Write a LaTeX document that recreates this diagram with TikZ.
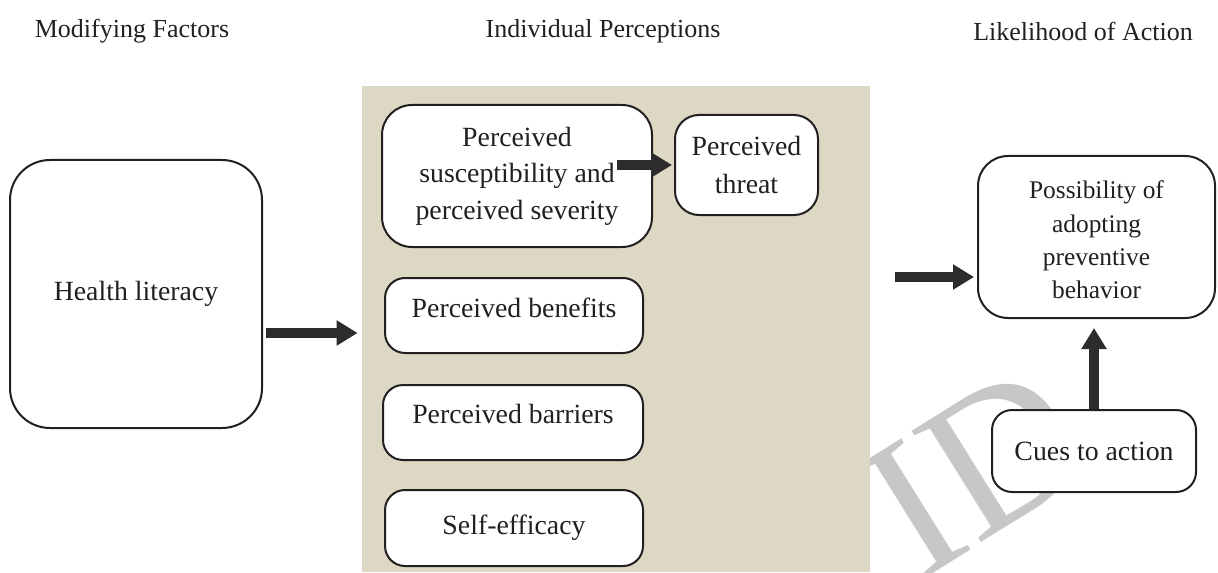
\documentclass[tikz,border=0pt]{standalone}
\usepackage{fontspec}
\setmainfont{Liberation Serif}
\usetikzlibrary{arrows.meta,fit}
\definecolor{panelfill}{RGB}{221,216,196}
\definecolor{ink}{RGB}{35,31,32}
\definecolor{arrowfill}{RGB}{45,43,44}
\begin{document}
\begin{tikzpicture}[x=0.5pt,y=-0.5pt,
  box/.style={draw=ink, line width=1pt, fill=white, rounded corners=12pt, inner sep=0pt},
  boxtext/.style={align=center, text=ink, inner sep=0pt, font=\fontsize{13.9}{18.25}\selectfont},
  title/.style={text=ink, inner sep=0pt, font=\fontsize{13}{15}\selectfont},
  bigarrow/.style={line width=5pt, draw=arrowfill, -{Triangle[length=10.5pt,width=12pt]}}]
\useasboundingbox (0,0) rectangle (1218,572);
% watermark
\node[text=black!22, rotate=32, inner sep=0pt, font=\fontsize{100}{100}\selectfont] (wm) at (975,470) {ID};
% panel
\node[fit={(362,86)(870,572)}, fill=panelfill, inner sep=0pt] (panel) {};
% titles
\node[title] (t1) at (132,31) {Modifying Factors};
\node[title] (t2) at (603,31) {Individual Perceptions};
\node[title] (t3) at (1083,31) {Likelihood of Action};
% boxes
\node[box, rounded corners=20pt, fit={(10,160)(262,428)}] (hl) {};
\node[boxtext] (hlt) at (hl.center) {Health literacy};
\node[box, rounded corners=15pt, fit={(382,105)(652,247)}] (sus) {};
\node[boxtext] (sust) at (sus.center) {Perceived\\susceptibility and\\perceived severity};
\node[box, rounded corners=12pt, fit={(675,115)(818,215)}] (thr) {};
\node[boxtext, font=\fontsize{13.9}{19}\selectfont] (thrt) at (thr.center) {Perceived\\threat};
\node[box, rounded corners=10pt, fit={(385,278)(643,353)}] (ben) {};
\node[boxtext] (bent) at ([yshift=3.7pt]ben.center) {Perceived benefits};
\node[box, rounded corners=10pt, fit={(383,385)(643,460)}] (bar) {};
\node[boxtext] (bart) at ([yshift=4.5pt]bar.center) {Perceived barriers};
\node[box, rounded corners=10pt, fit={(385,490)(643,566)}] (self) {};
\node[boxtext] (selft) at (self.center) {Self-efficacy};
\node[box, rounded corners=15pt, fit={(978,156)(1215,318)}] (poss) {};
\node[boxtext, font=\fontsize{12.7}{16.7}\selectfont] (posst) at ([yshift=-1.5pt]poss.center) {Possibility of\\adopting\\preventive\\behavior};
\node[box, rounded corners=10pt, fit={(992,410)(1196,492)}] (cues) {};
\node[boxtext] (cuest) at (cues.center) {Cues to action};
% arrows
\draw[bigarrow, shorten <=1.5pt, shorten >=2pt] (hl.east |- 0,333) -- (panel.west |- 0,333);
\draw[bigarrow, shorten <=50pt, shorten >=1pt] (sus.center |- 0,165) -- (thr.west |- 0,165);
\draw[bigarrow, shorten <=12.5pt, shorten >=1.5pt] (panel.east |- 0,277) -- (poss.west |- 0,277);
\draw[bigarrow, shorten >=4.5pt] (cues.north) -- (cues.north |- poss.south);
\end{tikzpicture}
\end{document}
